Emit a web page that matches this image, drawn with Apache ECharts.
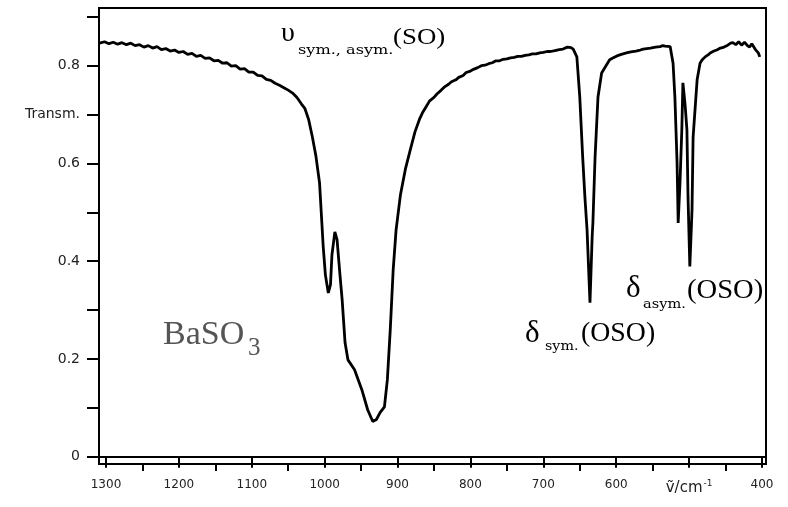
<!DOCTYPE html>
<html>
<head>
<meta charset="utf-8">
<script src="https://cdn.jsdelivr.net/npm/echarts@6/dist/echarts.min.js"></script>
<style>html,body{margin:0;padding:0;background:#fff;}#c{width:788px;height:507px;}</style>
</head>
<body>
<div id="c"></div>
<script>
// Wavenumbers (cm^-1) and transmittance
const wavenumber = [1309,1302,1296,1290,1284,1278,1272,1266,1260,1254,1248,1242,1236,1230,1224,1218,1212,1206,1200,1194,1188,1182,1176,1170,1164,1158,1152,1146,1140,1134,1128,1122,1116,1110,1104,1098,1092,1086,1080,1074,1068,1062,1056,1050,1044,1038,1032,1027,1022,1017,1012,1007,1002,999,995,992,990,986,983,979,976,972,968,959,949,941,934,929,924,918,914,910,906,902,896,889,883,876,870,866,860,856,850,846,840,836,830,826,820,816,810,806,800,795,790,785,780,775,770,765,760,755,750,745,740,735,730,725,720,715,710,705,700,695,690,684,678,673,667,662,659,654,650,646,643,640,636,633,632,629,625,620,614,609,604,599,593,586,580,573,567,563,558,553,546,540,536,533,526,522,519.5,516.5,515,512.5,510,508.5,505.5,503,501.5,499,496,494.5,489,485,482,478,474,471,466,462,457,452,447,443,440,436,432,428,424,420,417,414,412,409,407,405,403];
const transmittance = [0.846,0.849,0.845,0.848,0.844,0.847,0.843,0.846,0.841,0.843,0.838,0.841,0.836,0.839,0.833,0.835,0.830,0.832,0.827,0.829,0.823,0.825,0.819,0.821,0.815,0.816,0.810,0.811,0.805,0.806,0.799,0.800,0.793,0.794,0.787,0.787,0.780,0.779,0.772,0.770,0.764,0.760,0.755,0.750,0.744,0.735,0.722,0.712,0.690,0.655,0.615,0.560,0.430,0.372,0.335,0.352,0.413,0.460,0.444,0.372,0.321,0.233,0.198,0.178,0.137,0.096,0.072,0.076,0.090,0.102,0.157,0.260,0.382,0.464,0.536,0.590,0.625,0.665,0.690,0.703,0.718,0.728,0.735,0.742,0.750,0.756,0.762,0.767,0.771,0.776,0.780,0.786,0.789,0.793,0.796,0.800,0.801,0.804,0.806,0.810,0.810,0.813,0.814,0.816,0.817,0.819,0.819,0.821,0.822,0.824,0.824,0.826,0.827,0.829,0.829,0.831,0.833,0.834,0.838,0.837,0.834,0.818,0.736,0.613,0.532,0.464,0.315,0.450,0.478,0.613,0.736,0.785,0.800,0.812,0.816,0.820,0.823,0.826,0.828,0.830,0.832,0.834,0.835,0.836,0.838,0.839,0.841,0.840,0.839,0.805,0.736,0.601,0.478,0.560,0.669,0.765,0.720,0.669,0.532,0.389,0.505,0.654,0.771,0.805,0.812,0.818,0.822,0.826,0.830,0.832,0.836,0.838,0.842,0.846,0.847,0.843,0.849,0.842,0.848,0.841,0.838,0.845,0.842,0.833,0.837,0.826,0.818];
const xMajorTicks = [400,500,600,700,800,900,1000,1100,1200,1300];
const xMinorTicks = [450,550,650,750,850,950,1050,1150,1250];
const yTicks = [0,0.1,0.2,0.3,0.4,0.5,0.6,0.7,0.8,0.9];
const yLabels = [0,0.2,0.4,0.6,0.7,0.8];

const chart = echarts.init(document.getElementById('c'));
const X_MIN = 394.5, X_MAX = 1309.6;
function txt(x, y, text, size, family, opts) {
  opts = opts || {};
  return {
    type:'text', x:x, y:y, scaleX: opts.sx || 1, z: 100,
    style:{text:text, font: (opts.weight ? opts.weight + ' ' : '') + size + 'px "' + family + '"', fill: opts.fill || '#000',
      textAlign:'left', textVerticalAlign:'middle', align:'left', verticalAlign:'middle'}
  };
}
chart.setOption({
  animation:false,
  backgroundColor:'#fff',
  grid:{left:99, right:22, top:8, bottom:43, show:true, borderColor:'#000', borderWidth:2, backgroundColor:'transparent'},
  xAxis:[{
    type:'value', inverse:true, min:X_MIN, max:X_MAX, position:'bottom',
    axisLine:{show:true, lineStyle:{color:'#000', width:2}},
    axisTick:{show:true, customValues:xMajorTicks, length:11, lineStyle:{color:'#000', width:2}},
    axisLabel:{show:true, customValues:xMajorTicks, margin:15, fontFamily:'DejaVu Sans', fontSize:12, color:'#222',
      formatter:function(v){ return v === 500 ? '{a|ṽ/cm}{s|-1}' : String(v); },
      rich:{a:{fontFamily:'DejaVu Sans', fontSize:15, color:'#222'}, s:{fontFamily:'DejaVu Sans', fontSize:9, color:'#222', verticalAlign:'top', padding:[0,0,9,1]}}},
    splitLine:{show:false}
  },{
    type:'value', inverse:true, min:X_MIN, max:X_MAX, position:'bottom',
    axisLine:{show:false},
    axisTick:{show:true, customValues:xMinorTicks, length:7, lineStyle:{color:'#000', width:2}},
    axisLabel:{show:false}, splitLine:{show:false}
  }],
  yAxis:{
    type:'value', min:-0.015, max:0.918,
    axisLine:{show:true, lineStyle:{color:'#000', width:2}},
    axisTick:{show:true, customValues:yTicks, length:12, lineStyle:{color:'#000', width:2}},
    axisLabel:{show:true, customValues:yLabels, margin:19, fontFamily:'DejaVu Sans', fontSize:14, color:'#222',
      formatter:function(v){ if (Math.abs(v-0.7)<1e-6) return 'Transm.'; if (Math.abs(v)<1e-9) return '0'; return v.toFixed(1); }},
    splitLine:{show:false}
  },
  series:[{
    type:'line', xAxisIndex:0, showSymbol:false, smooth:false,
    lineStyle:{color:'#000', width:2.8}, itemStyle:{color:'#000'},
    data: wavenumber.map(function(w,i){ return [w, transmittance[i]]; })
  }],
  graphic:[
    txt(281, 33.5, 'υ', 28, 'Liberation Serif'),
    txt(298, 50.5, 'sym., asym.', 13, 'DejaVu Serif', {sx:1.24}),
    txt(393, 38, '(SO)', 24, 'Liberation Serif', {sx:1.12}),
    txt(163, 335.5, 'BaSO', 34, 'Liberation Serif', {fill:'#555'}),
    txt(248, 348.5, '3', 25, 'Liberation Serif', {fill:'#555'}),
    txt(626, 289, 'δ', 31, 'Liberation Serif'),
    txt(643, 304.5, 'asym.', 13, 'DejaVu Serif', {sx:1.12}),
    txt(687, 291, '(OSO)', 27, 'Liberation Serif', {sx:1.06}),
    txt(525, 334, 'δ', 31, 'Liberation Serif'),
    txt(545, 346.5, 'sym.', 13, 'DejaVu Serif', {sx:1.1}),
    txt(581, 334, '(OSO)', 27, 'Liberation Serif', {sx:1.03})
  ]
});
</script>
</body>
</html>
